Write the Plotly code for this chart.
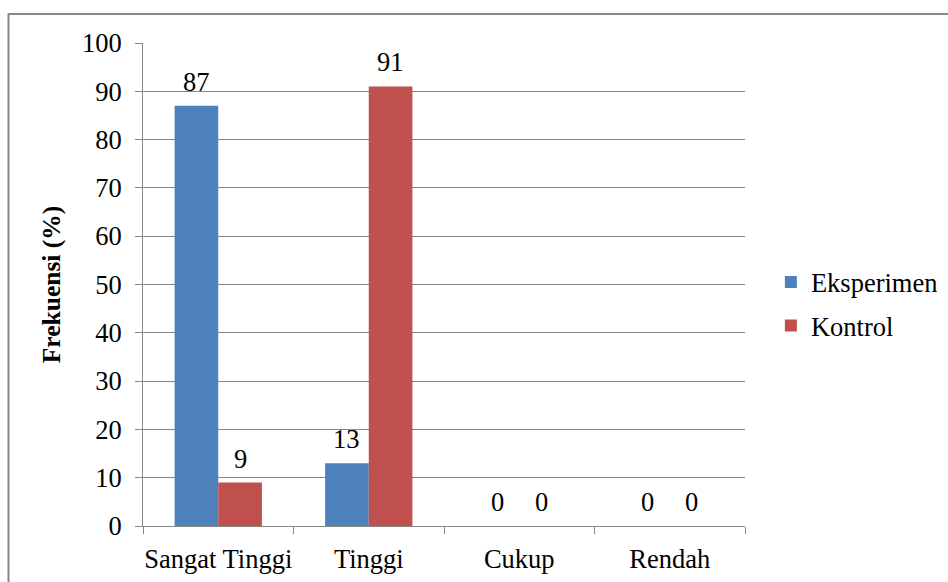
import plotly.graph_objects as go

categories = ["Sangat Tinggi", "Tinggi", "Cukup", "Rendah"]
eksperimen = [87, 13, 0, 0]
kontrol = [9, 91, 0, 0]
y_ticks = list(range(0, 101, 10))

FONT = "Liberation Serif, Times New Roman, serif"
GRID = "#888888"
FS = 26.5

PLOT_L, PLOT_R, PLOT_T, PLOT_B = 143, 745, 43, 526
W, H = 948, 582
BARGAP = 0.42

fig = go.Figure()
series = [("Eksperimen", eksperimen, "#4F81BD"), ("Kontrol", kontrol, "#C0504D")]
for i, (name, vals, color) in enumerate(series):
    fig.add_trace(go.Bar(
        name=name, x=categories, y=vals,
        marker=dict(color=color, line=dict(width=0)),
        legendgroup=name,
    ))

# value labels above each bar, offset to the centre of its group slot
slot = (PLOT_R - PLOT_L) / len(categories)
bar_w = slot * (1 - BARGAP) / len(series)
for i, (name, vals, color) in enumerate(series):
    dx = (i - (len(series) - 1) / 2) * bar_w
    for cat, v in zip(categories, vals):
        fig.add_annotation(
            x=cat, y=v, text=str(v), showarrow=False,
            xanchor="center", yanchor="bottom", xshift=dx, yshift=7,
            font=dict(size=FS, family=FONT, color="black"),
        )

fig.update_layout(
    width=W, height=H,
    margin=dict(l=PLOT_L, r=W - PLOT_R, t=PLOT_T, b=H - PLOT_B, autoexpand=False),
    paper_bgcolor="white", plot_bgcolor="white",
    font=dict(family=FONT, size=FS, color="black"),
    barmode="group", bargap=BARGAP, bargroupgap=0,
    showlegend=True,
    legend=dict(
        x=1.043, y=0.46, xanchor="left", yanchor="middle",
        font=dict(size=FS, family=FONT, color="black"),
        tracegroupgap=6, traceorder="grouped",
        bgcolor="rgba(0,0,0,0)",
    ),
    xaxis=dict(
        type="category", showgrid=False, showline=True, linecolor=GRID, linewidth=1,
        ticks="outside", tickson="boundaries", ticklen=7, tickcolor=GRID,
        tickfont=dict(size=FS, family=FONT, color="black"),
        tickangle=0, ticklabelstandoff=9,
        range=[-0.5, 3.5],
    ),
    yaxis=dict(
        range=[0, 100], tickvals=y_ticks, showgrid=True, gridcolor=GRID, gridwidth=1,
        showline=True, linecolor=GRID, linewidth=1,
        ticks="outside", ticklen=7, tickcolor=GRID,
        tickfont=dict(size=FS, family=FONT, color="black"),
        ticklabelstandoff=8,
        title=dict(text="<b>Frekuensi (%)</b>", font=dict(size=25.5, family=FONT, color="black"), standoff=14),
        zeroline=False,
    ),
    shapes=[
        # chart area frame
        dict(type="rect", xref="paper", yref="paper",
             x0=(8.5 - PLOT_L) / (PLOT_R - PLOT_L), x1=(960 - PLOT_L) / (PLOT_R - PLOT_L),
             y0=(PLOT_B - 600) / (PLOT_B - PLOT_T), y1=(PLOT_B - 14) / (PLOT_B - PLOT_T),
             line=dict(color="#888888", width=2), fillcolor="rgba(0,0,0,0)", layer="below"),
    ],
)

fig.write_html("out.html")
